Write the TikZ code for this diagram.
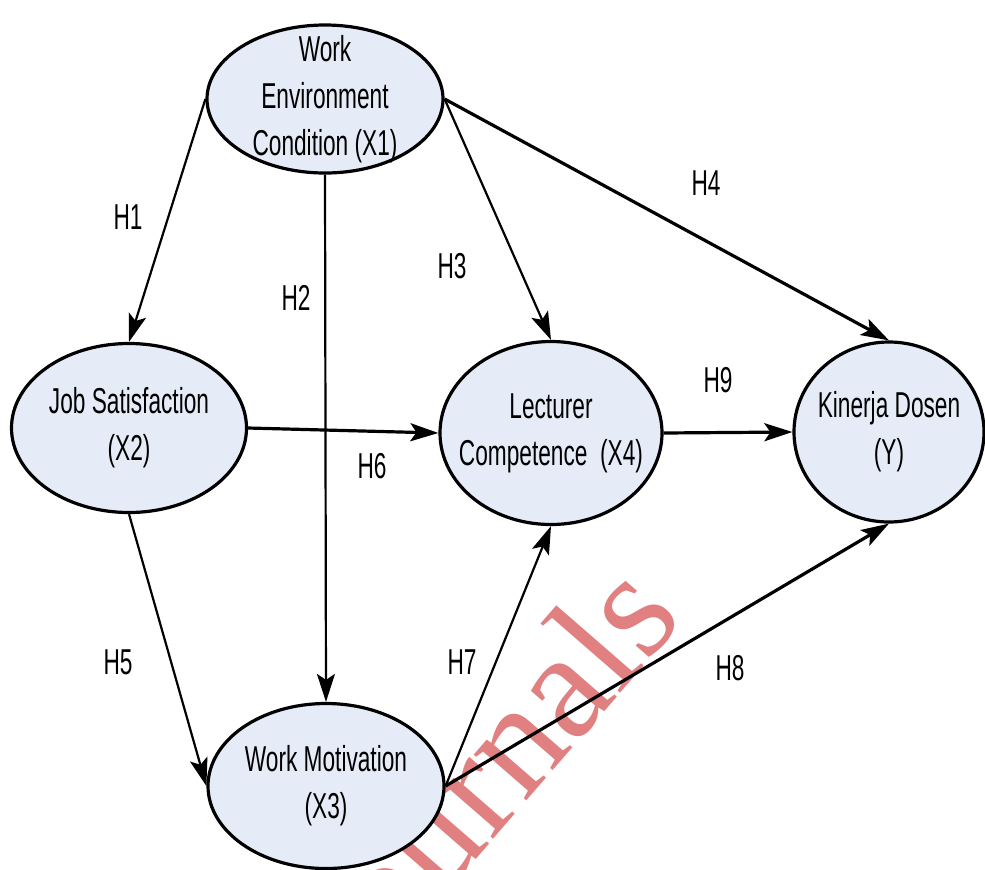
\documentclass[tikz,border=0pt]{standalone}
\usepackage{fontspec}
\setmainfont{Liberation Sans}[FakeStretch=0.63]
\newfontfamily\wmfont{Liberation Serif}
\usepackage{xcolor}
\usepackage{tikz}
\usetikzlibrary{arrows.meta,positioning,shapes.geometric}
\definecolor{varfill}{RGB}{230,236,247}
\definecolor{wmred}{RGB}{224,128,128}

\begin{document}
\begin{tikzpicture}[
  x=0.5pt, y=-0.5pt,
  var/.style={ellipse, draw, line width=1.6pt, fill=varfill, inner sep=0pt},
  vartext/.style={align=center, font=\fontsize{18}{23.5}\selectfont},
  hyp/.style={font=\fontsize{18}{23.5}\selectfont},
  link/.style={->, line width=1.1pt},
  mainlink/.style={->, line width=1.6pt},
  >={Stealth[length=14pt, width=9pt, inset=3pt]}
]
  \useasboundingbox (0,0) rectangle (985,869);
  \node[font=\wmfont\fontsize{76}{76}\selectfont, text=wmred, rotate=49] (wm) at (480,776) {Journals};

  \node[var, minimum width=118pt, minimum height=74pt] (x1) at (325,99) {};
  \node[var, minimum width=117.5pt, minimum height=84.5pt] (x2) at (129,428) {};
  \node[var, minimum width=111pt, minimum height=91.5pt] (x4) at (551,433) {};
  \node[var, minimum width=95pt, minimum height=90pt] (y) at (889,432) {};
  \node[var, minimum width=118pt, minimum height=82.5pt] (x3) at (326,786) {};

  \node[vartext] (x1t) at (x1) {Work\\Environment\\Condition (X1)};
  \node[vartext] (x2t) at (x2) {Job Satisfaction\\(X2)};
  \node[vartext] (x4t) at (x4) {Lecturer\\Competence\ \ (X4)};
  \node[vartext] (yt) at (y) {Kinerja Dosen\\(Y)};
  \node[vartext] (x3t) at (x3) {Work Motivation\\(X3)};

  \draw[link] (x1.west) -- (x2.north);
  \draw[link] (x1.south) -- (x3.north);
  \draw[link] (x1.east) -- (x4.north);
  \draw[mainlink] (x1.east) -- (y.north);
  \draw[mainlink] (x2.east) -- (x4.west);
  \draw[mainlink] (x4.east) -- (y.west);
  \draw[link] (x2.south) -- (x3.west);
  \draw[link] (x3.east) -- (x4.south);
  \draw[mainlink] (x3.east) -- (y.south);

  \node[hyp] (h1) at (128,217) {H1};
  \node[hyp] (h2) at (296,298) {H2};
  \node[hyp] (h3) at (452,266) {H3};
  \node[hyp] (h4) at (706,183) {H4};
  \node[hyp] (h5) at (118,662) {H5};
  \node[hyp] (h6) at (372,466) {H6};
  \node[hyp] (h7) at (462,662) {H7};
  \node[hyp] (h8) at (730,668) {H8};
  \node[hyp] (h9) at (718,380) {H9};
\end{tikzpicture}
\end{document}
